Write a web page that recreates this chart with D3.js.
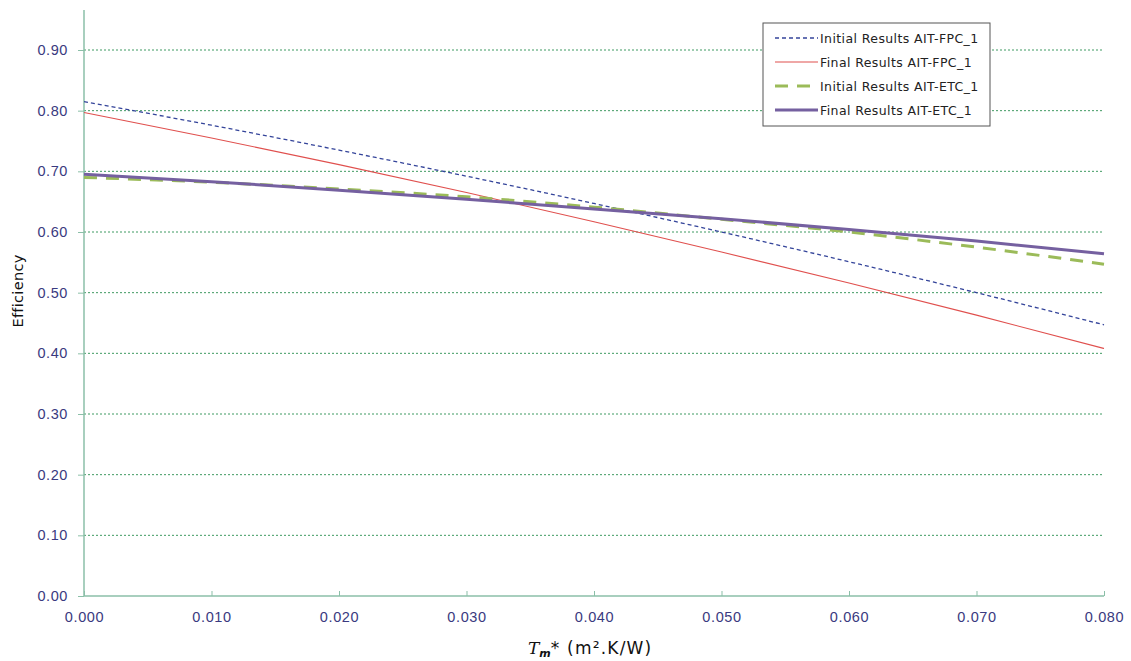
<!DOCTYPE html>
<html>
<head>
<meta charset="utf-8">
<script src="https://cdn.jsdelivr.net/npm/d3@7"></script>
<style>
  html, body { margin: 0; padding: 0; background: #fff; }
  svg { display: block; font-family: "DejaVu Sans", Verdana, sans-serif; }
</style>
</head>
<body>
<svg id="chart" width="1131" height="661"></svg>
<script>
// Reduced temperature Tm* (m².K/W)
const tmValues = [0.000, 0.010, 0.020, 0.030, 0.040, 0.050, 0.060, 0.070, 0.080];

// Collector efficiency curves
const initialFPC = [0.815, 0.776, 0.735, 0.692, 0.647, 0.600, 0.551, 0.500, 0.447];
const finalFPC   = [0.797, 0.755, 0.711, 0.665, 0.617, 0.567, 0.516, 0.463, 0.408];
const initialETC = [0.690, 0.682, 0.671, 0.658, 0.641, 0.621, 0.600, 0.575, 0.547];
const finalETC   = [0.695, 0.683, 0.669, 0.654, 0.638, 0.622, 0.604, 0.585, 0.564];

const seriesNames = [
  "Initial Results AIT-FPC_1",
  "Final Results AIT-FPC_1",
  "Initial Results AIT-ETC_1",
  "Final Results AIT-ETC_1"
];

const yTicks = [0.00, 0.10, 0.20, 0.30, 0.40, 0.50, 0.60, 0.70, 0.80, 0.90];
const xTicks = [0.000, 0.010, 0.020, 0.030, 0.040, 0.050, 0.060, 0.070, 0.080];

const series = [
  { name: seriesNames[0], values: initialFPC, color: "#34449a", width: 1.3, dash: "4,3" },
  { name: seriesNames[1], values: finalFPC,   color: "#e0504e", width: 1.1, dash: null },
  { name: seriesNames[2], values: initialETC, color: "#9bbb59", width: 3,   dash: "13,9" },
  { name: seriesNames[3], values: finalETC,   color: "#7560a0", width: 3,   dash: null }
];

const svg = d3.select("#chart");
const plotLeft = 84, plotRight = 1104, plotTop = 10, plotBottom = 596;

const x = d3.scaleLinear().domain([0, 0.08]).range([plotLeft, plotRight]);
const y = d3.scaleLinear().domain([0, 0.9]).range([plotBottom, 50]);

const axisColor = "#8bbfa8";
const labelColor = "#3a3a80";

// horizontal grid lines
svg.append("g")
  .selectAll("line")
  .data(yTicks.filter(d => d > 0))
  .join("line")
  .attr("x1", plotLeft).attr("x2", plotRight)
  .attr("y1", d => y(d)).attr("y2", d => y(d))
  .attr("stroke", "#3f9a62")
  .attr("stroke-width", 1)
  .attr("stroke-dasharray", "2,2");

// y axis
const yAxis = svg.append("g")
  .attr("transform", `translate(${plotLeft},0)`)
  .call(d3.axisLeft(y).tickValues(yTicks).tickFormat(d3.format(".2f")).tickSize(6).tickPadding(10));
yAxis.select(".domain").remove();
yAxis.selectAll(".tick line").attr("stroke", axisColor);
yAxis.selectAll(".tick text").attr("fill", labelColor).attr("font-size", 14.5).attr("letter-spacing", 0.6);
svg.append("line")
  .attr("x1", plotLeft).attr("x2", plotLeft).attr("y1", plotTop).attr("y2", plotBottom)
  .attr("stroke", axisColor).attr("stroke-width", 1.5);

// x axis
const xAxis = svg.append("g")
  .attr("transform", `translate(0,${plotBottom})`)
  .call(d3.axisBottom(x).tickValues(xTicks).tickFormat(d3.format(".3f")).tickSize(-5).tickPadding(16));
xAxis.select(".domain").remove();
xAxis.selectAll(".tick line").attr("stroke", axisColor);
xAxis.selectAll(".tick text").attr("fill", labelColor).attr("font-size", 14.5).attr("letter-spacing", 0.6);
svg.append("line")
  .attr("x1", plotLeft).attr("x2", plotRight).attr("y1", plotBottom).attr("y2", plotBottom)
  .attr("stroke", axisColor).attr("stroke-width", 1.5);

// curves
const line = d3.line()
  .x((d, i) => x(tmValues[i]))
  .y(d => y(d))
  .curve(d3.curveMonotoneX);

svg.append("g")
  .selectAll("path")
  .data(series)
  .join("path")
  .attr("d", d => line(d.values))
  .attr("fill", "none")
  .attr("stroke", d => d.color)
  .attr("stroke-width", d => d.width)
  .attr("stroke-dasharray", d => d.dash);

// axis titles
svg.append("text")
  .attr("transform", "translate(23,291) rotate(-90)")
  .attr("text-anchor", "middle")
  .attr("font-size", 14.5)
  .attr("letter-spacing", 0.3)
  .attr("fill", "#111")
  .text("Efficiency");

const xt = svg.append("text")
  .attr("x", 528).attr("y", 654)
  .attr("font-size", 17)
  .attr("fill", "#111");
xt.append("tspan").attr("font-style", "italic").attr("font-family", "'DejaVu Serif', serif").text("T");
xt.append("tspan").attr("font-style", "italic").attr("font-weight", "bold").attr("font-size", 11).attr("dy", 3).text("m");
xt.append("tspan").attr("dy", -3).attr("letter-spacing", 1.2).text("* (m².K/W)");

// legend
const lg = svg.append("g").attr("transform", "translate(763,23)");
lg.append("rect")
  .attr("width", 227).attr("height", 103)
  .attr("fill", "#fff").attr("stroke", "#555").attr("stroke-width", 1);
series.forEach((s, i) => {
  const yy = 15 + i * 24;
  lg.append("line")
    .attr("x1", 12).attr("x2", 55).attr("y1", yy).attr("y2", yy)
    .attr("stroke", s.color)
    .attr("stroke-width", s.width)
    .attr("stroke-dasharray", s.dash);
  lg.append("text")
    .attr("x", 57).attr("y", yy + 4.5)
    .attr("font-size", 12.5)
    .attr("letter-spacing", 0.4)
    .attr("fill", "#222")
    .text(s.name);
});
</script>
</body>
</html>
